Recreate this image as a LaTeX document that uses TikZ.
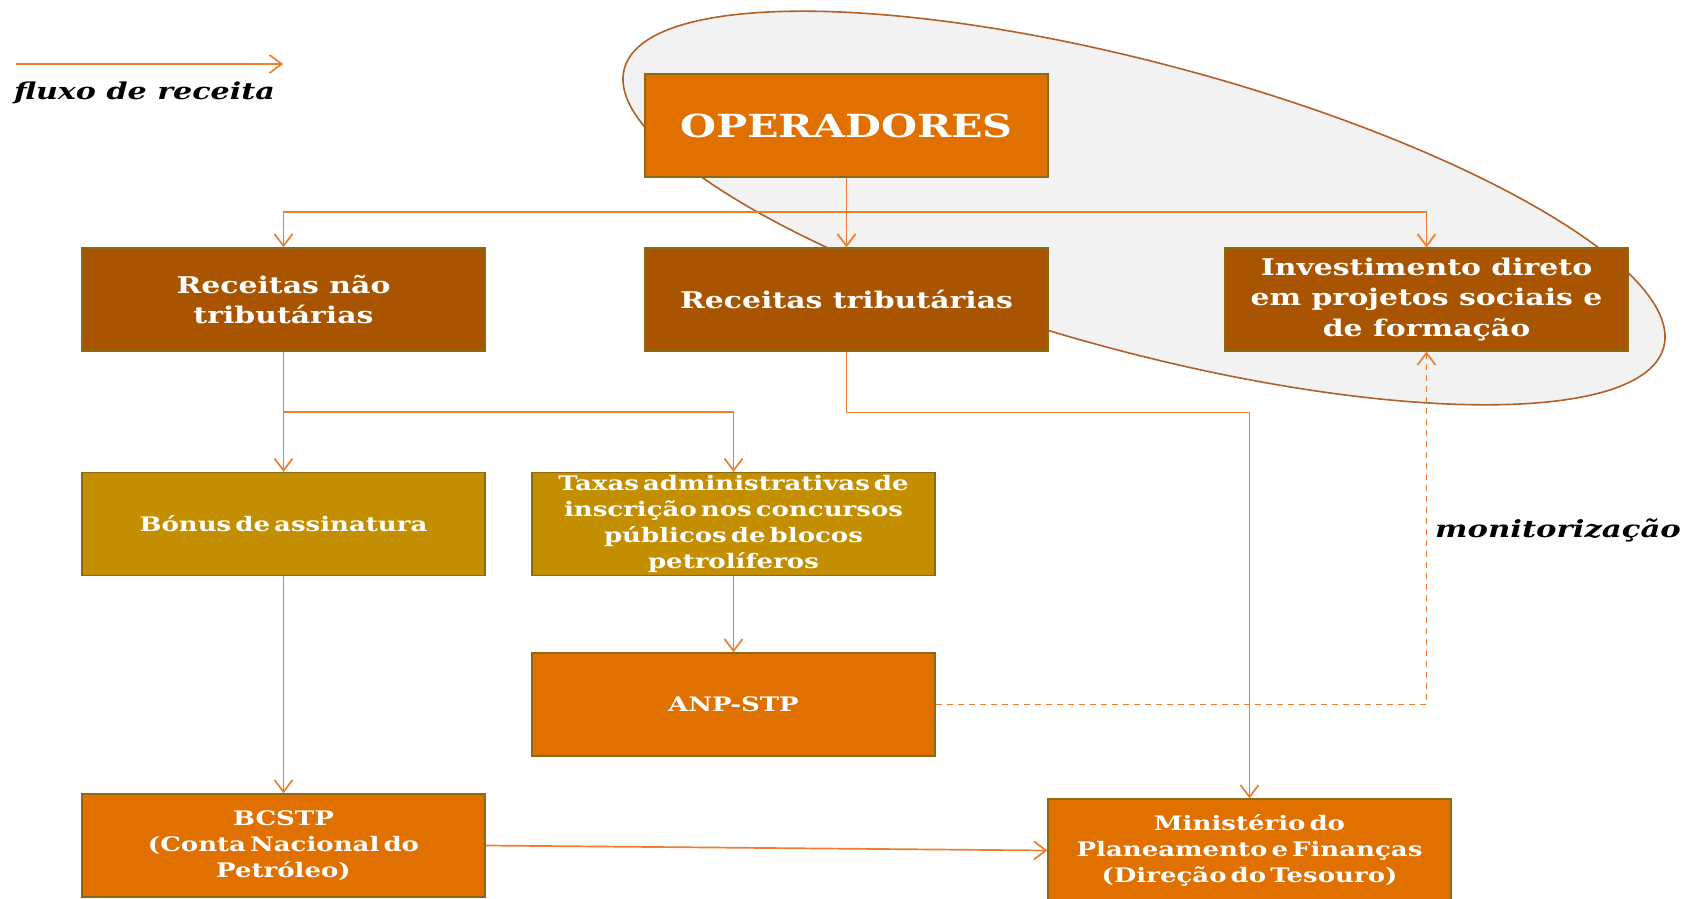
\documentclass[tikz,border=0pt]{standalone}
\usepackage{fontspec}
\setmainfont{DejaVu Serif}[FakeStretch=1.3]
\newfontfamily\lowfont{DejaVu Serif}[FakeStretch=1.3, WordSpace=0.45]
\usetikzlibrary{arrows.meta}
\definecolor{cOrange}{RGB}{224,112,0}
\definecolor{cBrown}{RGB}{168,84,0}
\definecolor{cGold}{RGB}{195,143,0}
\definecolor{cBorder}{RGB}{140,105,20}
\definecolor{cLine}{RGB}{236,125,49}
\definecolor{cEll}{RGB}{242,242,242}
\definecolor{cEllLine}{RGB}{176,96,40}
\tikzset{
  box/.style={draw=cBorder, line width=0.6pt, minimum width=201.5pt, minimum height=51.5pt,
    inner sep=0pt, align=center, text=white},
  topbox/.style={box, fill=cOrange, font=\bfseries\fontsize{15.9}{19}\selectfont},
  midbox/.style={box, fill=cBrown, font=\bfseries\fontsize{11.5}{15.2}\selectfont},
  lowbox/.style={box, font=\lowfont\bfseries\fontsize{10}{12.9}\selectfont},
  flow/.style={draw=cLine, line width=0.85pt, -{Straight Barb[length=6pt,width=9pt]}},
  monitor/.style={flow, dash pattern=on 3pt off 2.5pt},
  lbl/.style={font=\bfseries\itshape\fontsize{11.6}{14}\selectfont, text=black, inner sep=0pt}
}
\begin{document}
\begin{tikzpicture}[x=0.5pt,y=-0.5pt]
\useasboundingbox (0,0) rectangle (1686,899);
\clip (0,0) rectangle (1686,899);
% ellipse
\draw[fill=cEll, draw=cEllLine, line width=0.8pt, rotate around={-15:(1144,208)}]
  (1144,208) ellipse [x radius=538, y radius=144];
% nodes
\node[topbox] (op) at (846.5,125.5) {OPERADORES};
\node[midbox] (rnt) at (283.5,299.5) {Receitas não\\tributárias};
\node[midbox] (rt) at (846.5,299.5) {Receitas tributárias};
\node[midbox] (inv) at (1426.5,299.5) {Investimento direto\\em projetos sociais e\\de formação};
\node[lowbox, fill=cGold] (bon) at (283.5,524) {Bónus de assinatura};
\node[lowbox, fill=cGold] (tax) at (733.5,524) {Taxas administrativas de\\inscrição nos concursos\\públicos de blocos\\petrolíferos};
\node[lowbox, fill=cOrange] (anp) at (733.5,704.5) {ANP-STP};
\node[lowbox, fill=cOrange] (bc) at (283.5,845.5) {BCSTP\\(Conta Nacional do\\Petróleo)};
\node[lowbox, fill=cOrange] (min) at (1249.5,850.5) {Ministério do\\Planeamento e Finanças\\(Direção do Tesouro)};
% labels
\node[lbl] (leg) at (144.5,93) {fluxo de receita};
\node[lbl, font=\bfseries\itshape\fontsize{11.8}{14}\selectfont] (mon) at (1558,530) {monitorização};
% connectors
\coordinate (j1) at (846.5,212);
\coordinate (j2) at (283.5,412);
\coordinate (la) at (16,64);
\coordinate (lb) at (283,64);
\draw[flow] (op.south) -- (rt.north);
\draw[flow] (j1) -| (rnt.north);
\draw[flow] (j1) -| (inv.north);
\draw[flow] (rnt.south) -- (bon.north);
\draw[flow] (j2) -| (tax.north);
\draw[flow] (rt.south) -- ++(0,61) -| (min.north);
\draw[flow] (bon.south) -- (bc.north);
\draw[flow] (tax.south) -- (anp.north);
\draw[flow] (bc.east) -- (min.west);
\draw[monitor] (anp.east) -| (inv.south);
\draw[flow] (la) -- (lb);
\end{tikzpicture}
\end{document}
